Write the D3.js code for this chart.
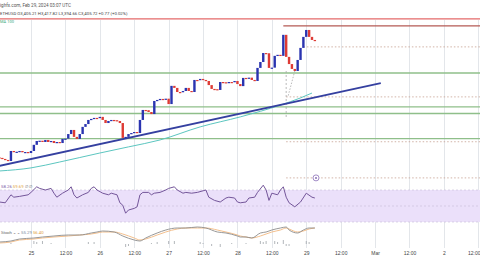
<!DOCTYPE html>
<html>
<head>
<meta charset="utf-8">
<script src="https://cdn.jsdelivr.net/npm/d3@7"></script>
<style>
body { margin: 0; background: #fff; }
svg { display: block; font-family: Roboto, "Liberation Sans", sans-serif; }
</style>
</head>
<body>
<script>
var width = 480, height = 270;

// hourly candles, first one opens Feb 24 13:00 UTC
var startHour = Date.UTC(2024, 1, 24, 13);
var firstOpen = 2947;
var closes = [
  2945, 2941, 2937, 2933, 2972, 2968, 2969, 2972, 2967, 2968,
  2964, 2972, 2996, 3011, 3012, 3007, 3015, 3007, 3011, 3003,
  3007, 3003, 3019, 3020, 3038, 3054, 3027, 3019, 3038, 3066,
  3077, 3093, 3097, 3101, 3100, 3105, 3093, 3081, 3089, 3093,
  3092, 3089, 3081, 3023, 3027, 3038, 3042, 3046, 3042, 3093,
  3132, 3131, 3124, 3116, 3167, 3171, 3175, 3174, 3176, 3155,
  3226, 3218, 3202, 3201, 3206, 3218, 3206, 3202, 3249, 3248,
  3253, 3249, 3245, 3229, 3214, 3213, 3210, 3241, 3240, 3237,
  3241, 3240, 3245, 3233, 3225, 3257, 3256, 3258, 3249, 3245,
  3296, 3319, 3354, 3353, 3296, 3297, 3343, 3347, 3343, 3425,
  3339, 3311, 3292, 3284, 3327, 3374, 3417, 3444, 3417, 3405,
  3401
];

// moving average (hour offset, price)
var maHours = [0, 11, 21, 35, 45, 56, 70, 84, 98, 105, 109];
var maValues = [2894, 2906, 2929, 2964, 2988, 3015, 3066, 3105, 3151, 3179, 3198];

// rising trend line
var trendHours = [0, 133];
var trendValues = [2914, 3237];

// horizontal levels
var redLevel = 3487;
var brownLevel = 3460, brownFrom = 99;
var greenLevels = [3276, 3144, 3118, 3020];
var dottedLevels = [3378, 3183, 3008, 2867];
var dottedFrom = [106, 100, 100, 100];

// drawing tool marks
var vLineHour = 100, vLinePrices = [3284, 3097];
var diagHours = [103, 100.6], diagPrices = [3284, 3183];

// RSI (hour offset, value)
var rsiHours = [0, 2, 4, 5, 7, 10, 11, 13, 14, 16, 18, 19, 20, 22, 24, 25, 26, 27, 29, 31,
  32, 33, 34, 36, 38, 39, 41, 42, 43, 44, 45, 47, 48, 49, 50, 52, 53, 54, 56, 58,
  59, 61, 62, 64, 65, 67, 69, 71, 72, 73, 75, 77, 79, 80, 82, 83, 84, 86, 87, 89,
  90, 92, 93, 94, 95, 97, 98, 99, 100, 101, 103, 105, 107, 109, 110];
var rsiValues = [55, 54, 64, 61, 62, 64, 67, 74, 72, 70, 72, 66, 61, 66, 70, 74, 64, 60, 64, 67,
  72, 74, 70, 66, 64, 66, 64, 54, 51, 41, 45, 47, 49, 64, 67, 67, 64, 66, 67, 70,
  72, 74, 70, 66, 67, 66, 67, 69, 70, 61, 57, 55, 60, 61, 60, 55, 54, 55, 60, 61,
  67, 76, 70, 57, 66, 64, 70, 74, 61, 54, 49, 55, 66, 61, 60];

// lower oscillator pane
var oscHours = [0, 4, 7, 12, 15, 19, 24, 28, 32, 34, 36, 40, 43, 47, 49, 51, 55, 58, 62,
  65, 69, 72, 76, 79, 83, 84, 86, 88, 91, 93, 95, 98, 100, 101, 104, 106, 108, 110];
var oscA = [42, 43, 45, 46, 47, 48, 49, 49, 51, 52, 53, 52, 48, 44, 43, 46, 51, 54, 56,
  56, 57, 56, 52, 51, 48, 47, 47, 46, 51, 52, 54, 56, 57, 54, 51, 54, 56, 56];
var oscB = [41, 42, 44, 45, 46, 47, 48, 49, 50, 51, 52, 52, 50, 46, 44, 45, 49, 52, 55,
  56, 56, 56, 54, 52, 49, 48, 47, 46, 48, 50, 52, 54, 56, 55, 52, 53, 55, 56];
var histHours = [4, 12, 13, 15, 18, 31, 33, 44, 45, 53, 55, 59, 61, 70, 71, 74, 77, 81, 86,
  91, 92, 93, 96, 97, 99, 100, 101, 107, 108];
var histValues = [1, 3, 2, 3, 1, 2, 2, -3, -2, 1, 2, 3, 3, 2, 1, -2, -3, 1, 1,
  3, 2, 3, 3, 2, 4, -2, -2, 3, 2];

function hourDate(h) { return new Date(startHour + h * 3600e3); }

var svg = d3.select("body").append("svg")
    .attr("width", width)
    .attr("height", height);

var x = d3.scaleUtc()
    .domain([new Date(Date.UTC(2024, 1, 24, 13, 11)), new Date(Date.UTC(2024, 2, 2, 12, 36))])
    .range([0, width]);
var y = d3.scaleLinear().domain([3000, 3500]).range([143.8, 15.6]);
var yRsi = d3.scaleLinear().domain([30, 70]).range([222, 190]);
var yOsc = d3.scaleLinear().domain([40, 60]).range([244, 224]);
var yHist = d3.scaleLinear().domain([-5, 5]).range([249, 239]);

// grid
var ticks = x.ticks(d3.utcHour.every(12));
svg.append("g").selectAll("line").data(ticks).join("line")
    .attr("x1", d => Math.round(x(d)) + 0.5).attr("x2", d => Math.round(x(d)) + 0.5)
    .attr("y1", 20).attr("y2", 248)
    .attr("stroke", "#e3e6ea").attr("stroke-width", 1);

// RSI band
svg.append("rect")
    .attr("x", 0).attr("width", width)
    .attr("y", yRsi(70)).attr("height", yRsi(30) - yRsi(70))
    .attr("fill", "#ebe0fa");
svg.append("g").selectAll("line").data([70, 50, 30]).join("line")
    .attr("x1", 0).attr("x2", width)
    .attr("y1", d => yRsi(d)).attr("y2", d => yRsi(d))
    .attr("stroke", "#c8bcd8").attr("stroke-width", 0.6)
    .attr("stroke-dasharray", "2,2");

// levels
svg.append("line")
    .attr("x1", 0).attr("x2", width)
    .attr("y1", y(redLevel)).attr("y2", y(redLevel))
    .attr("stroke", "#e46a6a").attr("stroke-width", 1.2);
svg.append("line")
    .attr("x1", x(hourDate(brownFrom))).attr("x2", width)
    .attr("y1", y(brownLevel)).attr("y2", y(brownLevel))
    .attr("stroke", "#b55a55").attr("stroke-width", 1.2);
svg.append("g").selectAll("line").data(greenLevels).join("line")
    .attr("x1", 0).attr("x2", width)
    .attr("y1", d => y(d)).attr("y2", d => y(d))
    .attr("stroke", "#8fbf8a").attr("stroke-width", 1.4);
svg.append("g").selectAll("line").data(dottedLevels).join("line")
    .attr("x1", (d, i) => x(hourDate(dottedFrom[i]))).attr("x2", width)
    .attr("y1", d => y(d)).attr("y2", d => y(d))
    .attr("stroke", "#c79f90").attr("stroke-width", 0.8)
    .attr("stroke-dasharray", "1.5,2");

// drawing marks
svg.append("line")
    .attr("x1", x(hourDate(vLineHour))).attr("x2", x(hourDate(vLineHour)))
    .attr("y1", y(vLinePrices[0])).attr("y2", y(vLinePrices[1]))
    .attr("stroke", "#a8a8a8").attr("stroke-width", 0.8)
    .attr("stroke-dasharray", "2,2");
svg.append("line")
    .attr("x1", x(hourDate(diagHours[0]))).attr("x2", x(hourDate(diagHours[1])))
    .attr("y1", y(diagPrices[0])).attr("y2", y(diagPrices[1]))
    .attr("stroke", "#a8a8a8").attr("stroke-width", 0.8)
    .attr("stroke-dasharray", "1.5,1.5");

// moving average
svg.append("path")
    .datum(maHours.map((h, i) => [h, maValues[i]]))
    .attr("fill", "none")
    .attr("stroke", "#5cc6c0")
    .attr("stroke-width", 1)
    .attr("d", d3.line().curve(d3.curveMonotoneX)
        .x(d => x(hourDate(d[0])))
        .y(d => y(d[1])));

// trend line
svg.append("line")
    .attr("x1", x(hourDate(trendHours[0]))).attr("x2", x(hourDate(trendHours[1])))
    .attr("y1", y(trendValues[0])).attr("y2", y(trendValues[1]))
    .attr("stroke", "#3540a0").attr("stroke-width", 1.8);

// candles
var candles = closes.map(function (c, i) {
    var o = i === 0 ? firstOpen : closes[i - 1];
    return {t: hourDate(i), o: o, c: c};
});
svg.append("g").selectAll("rect").data(candles).join("rect")
    .attr("x", d => x(d.t) - 1.2)
    .attr("width", 2.4)
    .attr("y", d => y(Math.max(d.o, d.c)))
    .attr("height", d => Math.max(1.2, Math.abs(y(d.o) - y(d.c))))
    .attr("fill", d => d.c >= d.o ? "#2a34b0" : "#de3b35");

// marker
svg.append("circle")
    .attr("cx", x(hourDate(110.4))).attr("cy", y(dottedLevels[3]))
    .attr("r", 3).attr("fill", "#fff")
    .attr("stroke", "#8a6fb8").attr("stroke-width", 0.8);
svg.append("circle")
    .attr("cx", x(hourDate(110.4))).attr("cy", y(dottedLevels[3]))
    .attr("r", 1).attr("fill", "#8a6fb8");

// RSI line
svg.append("path")
    .datum(rsiHours.map((h, i) => [h, rsiValues[i]]))
    .attr("fill", "none")
    .attr("stroke", "#74569a")
    .attr("stroke-width", 1)
    .attr("d", d3.line()
        .x(d => x(hourDate(d[0])))
        .y(d => yRsi(d[1])));

// oscillator pane
svg.append("g").selectAll("line").data(histHours).join("line")
    .attr("x1", d => x(hourDate(d))).attr("x2", d => x(hourDate(d)))
    .attr("y1", yHist(0)).attr("y2", (d, i) => yHist(histValues[i]))
    .attr("stroke", "#a0a4aa").attr("stroke-width", 0.8);
svg.append("path")
    .datum(oscHours.map((h, i) => [h, oscB[i]]))
    .attr("fill", "none")
    .attr("stroke", "#f2b880")
    .attr("stroke-width", 0.9)
    .attr("d", d3.line().curve(d3.curveMonotoneX)
        .x(d => x(hourDate(d[0])))
        .y(d => yOsc(d[1])));
svg.append("path")
    .datum(oscHours.map((h, i) => [h, oscA[i]]))
    .attr("fill", "none")
    .attr("stroke", "#8c8c8c")
    .attr("stroke-width", 0.9)
    .attr("d", d3.line().curve(d3.curveMonotoneX)
        .x(d => x(hourDate(d[0])))
        .y(d => yOsc(d[1])));

// time axis
var fmt = function (d) {
    if (d.getUTCHours() === 12) return "12:00";
    if (d.getUTCDate() === 1) return d3.utcFormat("%b")(d);
    return String(d.getUTCDate());
};
var axis = svg.append("g")
    .attr("transform", "translate(0,248)")
    .call(d3.axisBottom(x).tickValues(ticks).tickFormat(fmt).tickSize(0).tickPadding(3));
axis.select(".domain").remove();
axis.selectAll("text").style("font-size", "5px").attr("fill", "#444");
// keep the last label inside the frame
axis.selectAll(".tick").filter((d, i, n) => i === n.length - 1)
    .select("text").attr("text-anchor", "end").attr("x", 480 - x(ticks[ticks.length - 1]));

// header texts
svg.append("text").attr("x", 0).attr("y", 7)
    .style("font-size", "4.6px").attr("fill", "#555")
    .text("ighfx.com, Feb 29, 2024 03:07 UTC");
svg.append("text").attr("x", 0).attr("y", 15)
    .style("font-size", "4.3px").attr("fill", "#444")
    .text("ETHUSD O3,405.21 H3,417.82 L3,394.66 C3,405.72 +0.77 (+0.02%)");
svg.append("text").attr("x", 0).attr("y", 22.5)
    .style("font-size", "4px").attr("fill", "#3aa879")
    .text("MA 100");

var rsiLabel = svg.append("text").attr("x", 1).attr("y", 188).style("font-size", "4.3px");
rsiLabel.append("tspan").attr("fill", "#7e5aa8").text("58.26 ");
rsiLabel.append("tspan").attr("fill", "#e0a040").text("59.69 ");
rsiLabel.append("tspan").attr("fill", "#666").text("\u2205 \u2205");

var oscLabel = svg.append("text").attr("x", 1).attr("y", 234).style("font-size", "4.3px");
oscLabel.append("tspan").attr("fill", "#666").text("Stoch ~ ~ ");
oscLabel.append("tspan").attr("fill", "#7a8aa0").text("55.29 ");
oscLabel.append("tspan").attr("fill", "#e0a040").text("56.40");
</script>
</body>
</html>
